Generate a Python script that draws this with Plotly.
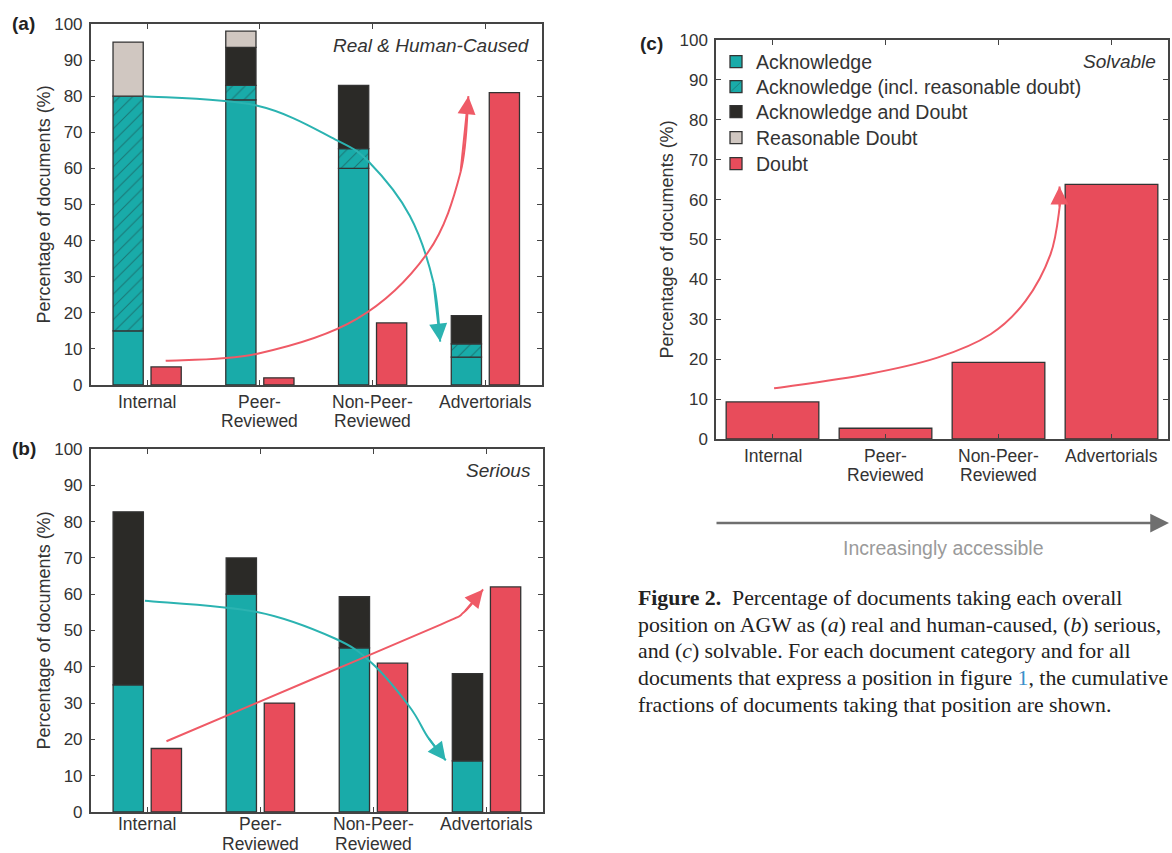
import plotly.graph_objects as go

W, H = 1172, 853

categories = ["Internal", "Peer-", "Non-Peer-", "Advertorials"]
categories_line2 = ["", "Reviewed", "Reviewed", ""]
cat_pos = [0, 1, 2, 3]

# Panel (a) Real & Human-Caused: segment sizes (%)
a_ack = [15, 79, 60, 7.7]
a_ack_rd = [65, 4, 5.5, 3.7]
a_ack_doubt = [0, 10.5, 17.5, 7.8]
a_rd = [15, 4.5, 0, 0]
a_doubt = [5, 2, 17.2, 81]

# Panel (b) Serious
b_ack = [35, 60, 45.2, 14.1]
b_ack_doubt = [47.7, 10, 14.1, 24]
b_doubt = [17.5, 30, 41, 62]

# Panel (c) Solvable
c_doubt = [9.3, 2.7, 19.2, 63.8]

# trend arrows (category units, %)
arr_a_teal_x = [-0.03, 0.97, 1.67, 1.97, 2.33, 2.54, 2.60]
arr_a_teal_y = [80, 77.4, 68, 61.7, 46.9, 28.4, 12]
arr_a_red_x = [0.165, 0.97, 1.86, 2.49, 2.78, 2.85]
arr_a_red_y = [6.7, 8.6, 18.3, 36.7, 58.9, 80]
arr_b_teal_x = [-0.02, 0.97, 1.66, 1.99, 2.32, 2.48, 2.64]
arr_b_teal_y = [58.2, 55.1, 47.8, 40.9, 29, 20.7, 14.2]
arr_b_red_x = [0.17, 1.47, 2.6, 2.8, 2.97]
arr_b_red_y = [19.5, 36.7, 51.7, 55, 61.3]
arr_c_red_x = [0.014, 0.84, 1.46, 1.93, 2.24, 2.46, 2.54, 2.54]
arr_c_red_y = [12.7, 16.25, 20.4, 26.25, 34.6, 46.25, 57.9, 63.3]

legend_names = ["Acknowledge", "Acknowledge (incl. reasonable doubt)",
                "Acknowledge and Doubt", "Reasonable Doubt", "Doubt"]

caption_lines = [
    "<b>Figure 2.</b>  Percentage of documents taking each overall",
    "position on AGW as (<i>a</i>) real and human-caused, (<i>b</i>) serious,",
    "and (<i>c</i>) solvable. For each document category and for all",
    "documents that express a position in figure <span style='color:#3b8fc9'>1</span>, the cumulative",
    "fractions of documents taking that position are shown.",
]

TEAL = "#19aba9"
DARK = "#2b2a27"
GREY = "#d0c7c1"
RED = "#e84c5b"
EDGE = "#333333"
SANS = "Liberation Sans, Arial, Helvetica, sans-serif"
SERIF = "Liberation Serif, Times New Roman, serif"

LEG_IDS = ["legend", "legend2", "legend3", "legend4", "legend5"]

fig = go.Figure()


def stack(segs, xa, ya, legend):
    base = [0.0] * 4
    for k, (name, vals, marker) in enumerate(segs):
        yv = [v if v > 0 else None for v in vals]
        fig.add_trace(go.Bar(
            x=cat_pos, y=yv, base=list(base), offset=-0.302, width=0.268,
            xaxis=xa, yaxis=ya, name=name, showlegend=legend, legend=LEG_IDS[k],
            marker=dict(line=dict(color=EDGE, width=1.3), **marker)))
        base = [b + v for b, v in zip(base, vals)]


hatch = dict(color=TEAL, pattern=dict(shape="/", fgcolor="#1d4544", bgcolor=TEAL,
                                      size=9, solidity=0.12))

stack([(legend_names[0], a_ack, dict(color=TEAL)),
       (legend_names[1], a_ack_rd, hatch),
       (legend_names[2], a_ack_doubt, dict(color=DARK)),
       (legend_names[3], a_rd, dict(color=GREY))], "x", "y", True)
fig.add_trace(go.Bar(x=cat_pos, y=a_doubt, offset=0.035, width=0.268, xaxis="x", yaxis="y",
                     name=legend_names[4], legend="legend5",
                     marker=dict(color=RED, line=dict(color=EDGE, width=1.3))))

stack([(legend_names[0], b_ack, dict(color=TEAL)),
       (legend_names[2], b_ack_doubt, dict(color=DARK))], "x2", "y2", False)
fig.add_trace(go.Bar(x=cat_pos, y=b_doubt, offset=0.035, width=0.268, xaxis="x2", yaxis="y2",
                     name=legend_names[4], showlegend=False,
                     marker=dict(color=RED, line=dict(color=EDGE, width=1.3))))

fig.add_trace(go.Bar(x=cat_pos, y=c_doubt, offset=-0.41, width=0.82, xaxis="x3", yaxis="y3",
                     name=legend_names[4], showlegend=False,
                     marker=dict(color=RED, line=dict(color=EDGE, width=1.3))))


def smooth_path(xs, ys):
    pts = list(zip(xs, ys))
    d = f"M{pts[0][0]},{pts[0][1]}"
    n = len(pts)
    for i in range(n - 1):
        p0 = pts[i - 1] if i > 0 else pts[i]
        p1, p2 = pts[i], pts[i + 1]
        p3 = pts[i + 2] if i + 2 < n else p2
        c1 = (p1[0] + (p2[0] - p0[0]) / 6, p1[1] + (p2[1] - p0[1]) / 6)
        c2 = (p2[0] - (p3[0] - p1[0]) / 6, p2[1] - (p3[1] - p1[1]) / 6)
        d += f" C{c1[0]},{c1[1]} {c2[0]},{c2[1]} {p2[0]},{p2[1]}"
    return d


def curved_arrow(xs, ys, color, xr, yr):
    fig.add_shape(type="path", path=smooth_path(xs, ys), xref=xr, yref=yr,
                  line=dict(color=color, width=2))
    fig.add_annotation(x=xs[-1], y=ys[-1], ax=xs[-2], ay=ys[-2], xref=xr, yref=yr,
                       axref=xr, ayref=yr, text="", showarrow=True, arrowhead=2,
                       arrowsize=1.8, arrowwidth=2, arrowcolor=color, standoff=0)


TEAL_ARROW = "#2bb3b1"
RED_ARROW = "#ef5a66"
curved_arrow(arr_a_teal_x, arr_a_teal_y, TEAL_ARROW, "x", "y")
curved_arrow(arr_a_red_x, arr_a_red_y, RED_ARROW, "x", "y")
curved_arrow(arr_b_teal_x, arr_b_teal_y, TEAL_ARROW, "x2", "y2")
curved_arrow(arr_b_red_x, arr_b_red_y, RED_ARROW, "x2", "y2")
curved_arrow(arr_c_red_x, arr_c_red_y, RED_ARROW, "x3", "y3")


def px(x):
    return x / W


def py(y):
    return 1 - y / H


TICKFONT_X = dict(family=SANS, size=17.5, color="#333333")
axis_common = dict(showline=True, linecolor="#444444", linewidth=1.5, mirror="ticks",
                   ticks="inside", ticklen=5, tickwidth=1.3, tickcolor="#444444",
                   showgrid=False, zeroline=False, fixedrange=True, automargin=False)
xcommon = dict(axis_common, range=[-0.5, 3.5], tickvals=cat_pos, showticklabels=False)
ycommon = dict(axis_common, range=[0, 100], dtick=10, tick0=0,
               tickfont=dict(family=SANS, size=17, color="#333333"), ticklabelstandoff=3)

layout_legends = {}
for k, (lid, yc) in enumerate(zip(LEG_IDS, [62, 87, 112, 138, 164])):
    layout_legends[lid] = dict(x=px(716), y=py(yc), xanchor="left", yanchor="middle",
                               bgcolor="rgba(0,0,0,0)", itemwidth=30,
                               font=dict(family=SANS, size=19.5, color="#333333"))

fig.update_layout(
    width=W, height=H, margin=dict(l=0, r=0, t=0, b=0, autoexpand=False),
    paper_bgcolor="white", plot_bgcolor="white", barmode="overlay",
    xaxis=dict(xcommon, domain=[px(90.7), px(541.7)], anchor="y"),
    yaxis=dict(ycommon, domain=[py(385), py(24)], anchor="x"),
    xaxis2=dict(xcommon, domain=[px(90.7), px(543)], anchor="y2"),
    yaxis2=dict(ycommon, domain=[py(812), py(449)], anchor="x2"),
    xaxis3=dict(xcommon, domain=[px(716), px(1168)], anchor="y3"),
    yaxis3=dict(ycommon, domain=[py(439), py(40)], anchor="x3"),
    showlegend=True,
    **layout_legends,
)

# category labels (two-line labels with the tight line spacing of the original)
for xa, yline1 in [("x", 402), ("x2", 824), ("x3", 456)]:
    for xp, t1, t2 in zip(cat_pos, categories, categories_line2):
        fig.add_annotation(text=t1, x=xp, y=py(yline1), xref=xa, yref="paper",
                           xanchor="center", yanchor="middle", showarrow=False,
                           borderpad=0, font=TICKFONT_X)
        if t2:
            fig.add_annotation(text=t2, x=xp, y=py(yline1 + 19.5), xref=xa, yref="paper",
                               xanchor="center", yanchor="middle", showarrow=False,
                               borderpad=0, font=TICKFONT_X)

# panel letters
for lab, x, y in [("(a)", 10, 24), ("(b)", 10, 449), ("(c)", 638, 44)]:
    fig.add_annotation(text=f"<b>{lab}</b>", x=px(x), y=py(y), xref="paper", yref="paper",
                       xanchor="left", yanchor="middle", showarrow=False,
                       font=dict(family=SANS, size=19, color="#222222"))

# panel titles
for t, xa, ya in [("Real & Human-Caused", "x", "y"), ("Serious", "x2", "y2"),
                  ("Solvable", "x3", "y3")]:
    fig.add_annotation(text=f"<i>{t}</i>", x=1, y=1, xref=f"{xa} domain", yref=f"{ya} domain",
                       xanchor="right", yanchor="top", xshift=-10, yshift=-9, showarrow=False,
                       font=dict(family=SANS, size=19, color="#333333"))

# y titles
for x, yc in [(43, (24 + 385) / 2), (43, (449 + 812) / 2), (666, (40 + 439) / 2)]:
    fig.add_annotation(text="Percentage of documents (%)", x=px(x), y=py(yc), xref="paper",
                       yref="paper", textangle=-90, showarrow=False,
                       xanchor="center", yanchor="middle",
                       font=dict(family=SANS, size=18, color="#333333"))

# increasingly accessible arrow
fig.add_annotation(x=px(1169), y=py(523), xref="paper", yref="paper", ax=-454, ay=0,
                   text="", showarrow=True, arrowhead=2, arrowsize=1.5, arrowwidth=2.5,
                   arrowcolor="#6f6f6f", standoff=0)
fig.add_annotation(text="Increasingly accessible", x=px(943), y=py(548), xref="paper",
                   yref="paper", showarrow=False, xanchor="center", yanchor="middle",
                   font=dict(family=SANS, size=19.5, color="#9a9a9a"))

# caption
for i, line in enumerate(caption_lines):
    fig.add_annotation(text=line, x=px(636), y=py(598 + 26.7 * i), xref="paper", yref="paper",
                       xanchor="left", yanchor="middle", showarrow=False, align="left",
                       font=dict(family=SERIF, size=21.8, color="#222222"))

fig.write_html("out.html", config={"displayModeBar": False},
               post_script="document.body.style.margin='0px';")
